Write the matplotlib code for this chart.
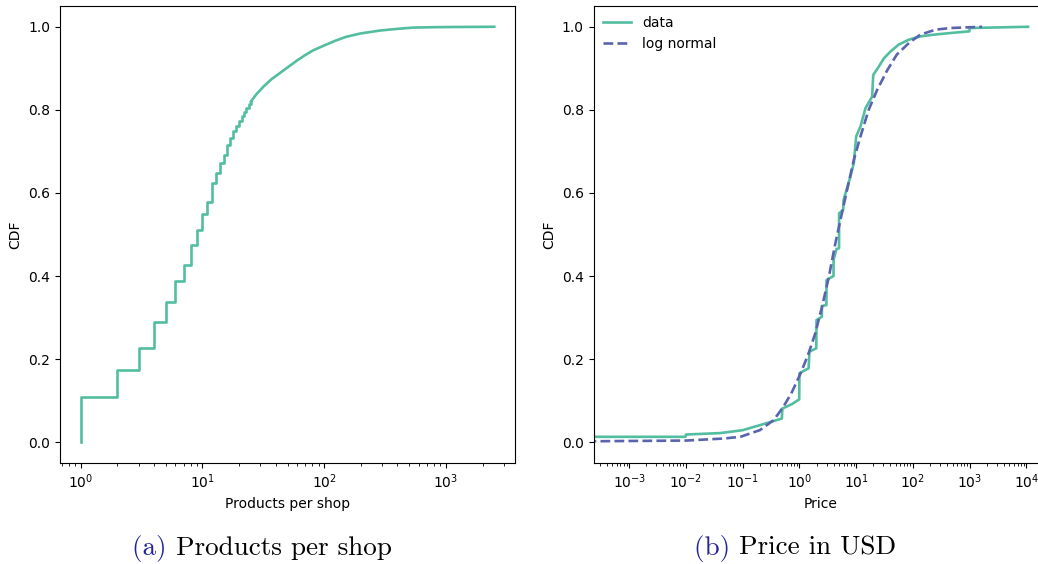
import matplotlib as mpl
import matplotlib.pyplot as plt

GREEN = "#52be9f"
BLUE = "#5a63b0"
CAPTION_BLUE = "#24249a"

# (a) products per shop: empirical CDF, integer steps then a dense tail
step_products = [1, 1, 2, 3, 4, 5, 6, 7, 8, 9, 10, 11, 12, 13, 14, 15, 16, 17, 18, 19,
                 20, 21, 22, 23, 24, 25]
step_cdf = [0.0, 0.109, 0.174, 0.227, 0.290, 0.337, 0.389, 0.426, 0.474, 0.510, 0.549,
            0.579, 0.623, 0.649, 0.672, 0.692, 0.716, 0.732, 0.749, 0.761, 0.774,
            0.785, 0.795, 0.805, 0.813, 0.820]
tail_products = [25, 28, 32, 37, 43, 50, 60, 70, 81, 100, 125, 152, 200, 288, 400, 535,
                 800, 1200, 2500]
tail_cdf = [0.820, 0.839, 0.857, 0.874, 0.888, 0.902, 0.919, 0.932, 0.943, 0.955, 0.967,
            0.976, 0.984, 0.991, 0.995, 0.998, 0.999, 0.9995, 1.0]

# (b) price in USD: data CDF and fitted log normal
price_data = [1e-4, 0.0098, 0.01, 0.04, 0.1, 0.2, 0.49, 0.5, 0.74, 0.99, 1.0, 1.45, 1.5,
              1.98, 2.0, 2.48, 2.5, 2.99, 3.0, 3.3, 3.99, 4.0, 4.5, 4.99, 5.0, 5.9, 6.0,
              7.9, 9.1, 10.0, 11.9, 14.6, 19.1, 20.0, 25, 30.8, 40, 56, 85, 136, 234,
              460, 990, 1000, 10700]
price_cdf = [0.013, 0.013, 0.0185, 0.022, 0.029, 0.041, 0.057, 0.081, 0.092, 0.103,
             0.166, 0.178, 0.218, 0.226, 0.294, 0.302, 0.328, 0.33, 0.39, 0.394, 0.40,
             0.44, 0.465, 0.467, 0.551, 0.559, 0.583, 0.639, 0.672, 0.736, 0.76, 0.804,
             0.832, 0.884, 0.904, 0.924, 0.94, 0.957, 0.969, 0.977, 0.981, 0.985,
             0.989, 0.997, 1.0]
price_fit = [1e-4, 0.01, 0.047, 0.091, 0.2, 0.35, 0.52, 0.74, 1.05, 1.45, 1.9, 2.5, 3.3,
             4.3, 5.6, 6.9, 9.1, 11.9, 16.6, 23.4, 35.5, 52, 85, 135, 250, 460, 1660]
fit_cdf = [0.002, 0.004, 0.009, 0.013, 0.029, 0.053, 0.085, 0.121, 0.166, 0.214, 0.262,
           0.326, 0.398, 0.479, 0.551, 0.607, 0.68, 0.736, 0.8, 0.848, 0.896, 0.933,
           0.961, 0.981, 0.993, 0.997, 1.0]

mpl.rcParams.update({
    "font.family": "DejaVu Sans",
    "font.size": 10,
    "axes.linewidth": 0.8,
})

W, H = 1038, 564
fig = plt.figure(figsize=(W / 100, H / 100), dpi=100)
ax1 = fig.add_axes([60 / W, 1 - 463 / H, 455 / W, 457 / H])
ax2 = fig.add_axes([593.5 / W, 1 - 463 / H, 455 / W, 457 / H])

ax1.plot(step_products, step_cdf, color=GREEN, lw=1.9, drawstyle="steps-post")
ax1.plot(tail_products, tail_cdf, color=GREEN, lw=1.9)
ax1.set_xscale("log")
ax1.set_xlabel("Products per shop")
ax1.set_ylabel("CDF")

ax2.plot(price_data, price_cdf, color=GREEN, lw=1.9, label="data")
ax2.plot(price_fit, fit_cdf, color=BLUE, lw=1.9, ls="--", label="log normal")
ax2.set_xscale("log")
ax2.set_xlim(10 ** -3.63, 10 ** 4.39)
ax2.set_xlabel("Price")
ax2.set_ylabel("CDF")
ax2.legend(loc="upper left", frameon=False, borderaxespad=0.3, handlelength=2.0)

for ax in (ax1, ax2):
    ax.set_ylim(-0.05, 1.05)
    ax.set_yticks([0.0, 0.2, 0.4, 0.6, 0.8, 1.0])


def caption(xc, tag, text):
    # "(a)" in blue, the rest in black, centred as one line
    yc = 1 - 548 / H
    t1 = fig.text(0, yc, tag + " ", color=CAPTION_BLUE, family="cmr10", fontsize=19.5, va="center")
    t2 = fig.text(0, yc, text, color="black", family="cmr10", fontsize=19.5, va="center")
    fig.canvas.draw()
    r = fig.canvas.get_renderer()
    w1 = t1.get_window_extent(r).width
    w2 = t2.get_window_extent(r).width
    x0 = xc - (w1 + w2) / 2
    t1.set_x(x0 / W)
    t2.set_x((x0 + w1) / W)


caption(262, "(a)", "Products per shop")
caption(795, "(b)", "Price in USD")

fig.savefig("out.png", dpi=100)
